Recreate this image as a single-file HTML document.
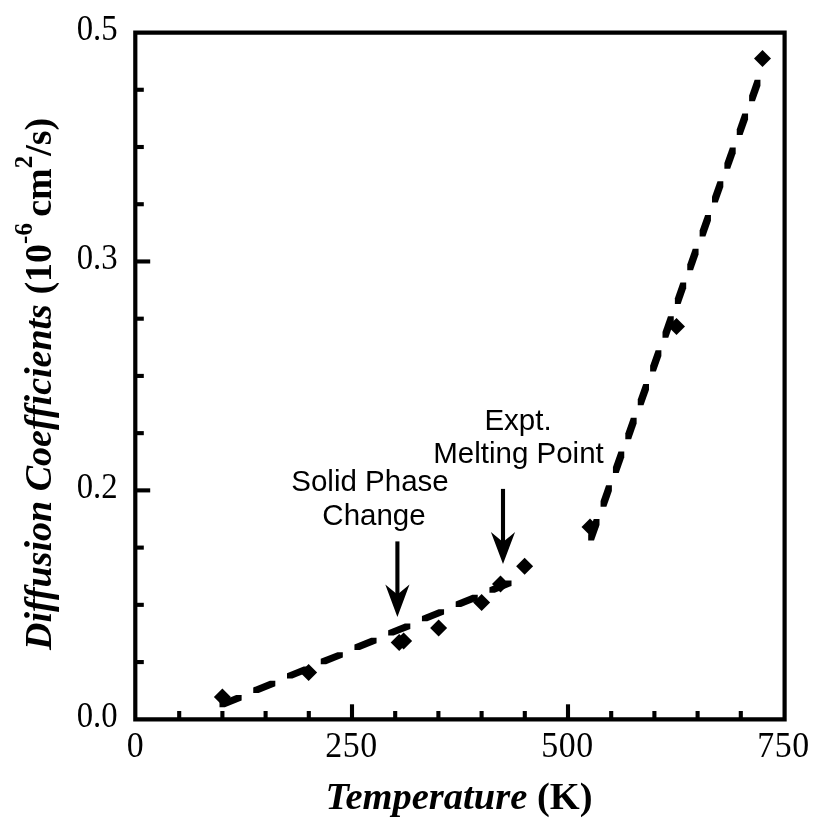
<!DOCTYPE html>
<html><head><meta charset="utf-8"><style>
html,body{margin:0;padding:0;background:#fff;width:819px;height:826px;overflow:hidden}
svg{display:block;will-change:transform}
text{font-variant-ligatures:none;font-feature-settings:'liga' 0,'clig' 0}
</style></head><body>
<svg width="819" height="826" viewBox="0 0 819 826" fill="#000">
<path d="M135.30 32.60 H784.60 V719.40 H135.30 Z" fill="none" stroke="#000" stroke-width="4.20" stroke-linejoin="miter"/>
<rect x="177.15" y="711.00" width="4.1" height="8.40"/>
<rect x="220.35" y="711.00" width="4.1" height="8.40"/>
<rect x="263.55" y="711.00" width="4.1" height="8.40"/>
<rect x="306.75" y="711.00" width="4.1" height="8.40"/>
<rect x="349.95" y="704.30" width="4.1" height="15.10"/>
<rect x="393.15" y="711.00" width="4.1" height="8.40"/>
<rect x="436.35" y="711.00" width="4.1" height="8.40"/>
<rect x="479.55" y="711.00" width="4.1" height="8.40"/>
<rect x="522.75" y="711.00" width="4.1" height="8.40"/>
<rect x="565.95" y="704.30" width="4.1" height="15.10"/>
<rect x="609.15" y="711.00" width="4.1" height="8.40"/>
<rect x="652.35" y="711.00" width="4.1" height="8.40"/>
<rect x="695.55" y="711.00" width="4.1" height="8.40"/>
<rect x="738.75" y="711.00" width="4.1" height="8.40"/>
<rect x="135.30" y="660.02" width="8.50" height="4.1"/>
<rect x="135.30" y="602.79" width="8.50" height="4.1"/>
<rect x="135.30" y="545.56" width="8.50" height="4.1"/>
<rect x="135.30" y="488.33" width="14.90" height="4.1"/>
<rect x="135.30" y="431.10" width="8.50" height="4.1"/>
<rect x="135.30" y="373.87" width="8.50" height="4.1"/>
<rect x="135.30" y="316.64" width="8.50" height="4.1"/>
<rect x="135.30" y="259.41" width="14.90" height="4.1"/>
<rect x="135.30" y="202.18" width="8.50" height="4.1"/>
<rect x="135.30" y="144.95" width="8.50" height="4.1"/>
<rect x="135.30" y="87.72" width="8.50" height="4.1"/>
<g><polygon points="219.50,701.80 236.20,695.10 241.60,695.10 241.60,700.50 224.90,707.20 219.50,707.20"/><polygon points="253.24,687.48 269.94,680.78 275.34,680.78 275.34,686.18 258.64,692.88 253.24,692.88"/><polygon points="286.98,673.16 303.68,666.46 309.08,666.46 309.08,671.86 292.38,678.56 286.98,678.56"/><polygon points="320.72,658.84 337.42,652.14 342.82,652.14 342.82,657.54 326.12,664.24 320.72,664.24"/><polygon points="354.46,644.52 371.16,637.82 376.56,637.82 376.56,643.22 359.86,649.92 354.46,649.92"/><polygon points="388.20,630.20 404.90,623.50 410.30,623.50 410.30,628.90 393.60,635.60 388.20,635.60"/><polygon points="421.94,615.88 438.64,609.18 444.04,609.18 444.04,614.58 427.34,621.28 421.94,621.28"/><polygon points="455.68,601.56 472.38,594.86 477.78,594.86 477.78,600.26 461.08,606.96 455.68,606.96"/><polygon points="489.42,587.24 506.12,580.54 511.52,580.54 511.52,585.94 494.82,592.64 489.42,592.64"/><polygon points="588.20,534.70 593.70,519.10 599.50,519.10 599.50,524.90 594.00,540.50 588.20,540.50"/><polygon points="600.58,500.91 606.08,485.31 611.88,485.31 611.88,491.11 606.38,506.71 600.58,506.71"/><polygon points="612.96,467.12 618.46,451.52 624.26,451.52 624.26,457.32 618.76,472.92 612.96,472.92"/><polygon points="625.34,433.33 630.84,417.73 636.64,417.73 636.64,423.53 631.14,439.13 625.34,439.13"/><polygon points="637.72,399.54 643.22,383.94 649.02,383.94 649.02,389.74 643.52,405.34 637.72,405.34"/><polygon points="650.10,365.75 655.60,350.15 661.40,350.15 661.40,355.95 655.90,371.55 650.10,371.55"/><polygon points="662.48,331.96 667.98,316.36 673.78,316.36 673.78,322.16 668.28,337.76 662.48,337.76"/><polygon points="674.86,298.17 680.36,282.57 686.16,282.57 686.16,288.37 680.66,303.97 674.86,303.97"/><polygon points="687.24,264.38 692.74,248.78 698.54,248.78 698.54,254.58 693.04,270.18 687.24,270.18"/><polygon points="699.62,230.59 705.12,214.99 710.92,214.99 710.92,220.79 705.42,236.39 699.62,236.39"/><polygon points="712.00,196.80 717.50,181.20 723.30,181.20 723.30,187.00 717.80,202.60 712.00,202.60"/><polygon points="724.38,163.01 729.88,147.41 735.68,147.41 735.68,153.21 730.18,168.81 724.38,168.81"/><polygon points="736.76,129.22 742.26,113.62 748.06,113.62 748.06,119.42 742.56,135.02 736.76,135.02"/><polygon points="749.14,95.43 754.64,79.83 760.44,79.83 760.44,85.63 754.94,101.23 749.14,101.23"/></g>
<g><polygon points="222.40,688.50 230.90,697.00 222.40,705.50 213.90,697.00"/><polygon points="308.60,663.90 317.10,672.40 308.60,680.90 300.10,672.40"/><polygon points="399.20,634.00 407.70,642.50 399.20,651.00 390.70,642.50"/><polygon points="403.60,632.50 412.10,641.00 403.60,649.50 395.10,641.00"/><polygon points="438.60,619.60 447.10,628.10 438.60,636.60 430.10,628.10"/><polygon points="481.60,594.00 490.10,602.50 481.60,611.00 473.10,602.50"/><polygon points="500.50,575.50 509.00,584.00 500.50,592.50 492.00,584.00"/><polygon points="524.60,557.70 533.10,566.20 524.60,574.70 516.10,566.20"/><polygon points="590.00,518.50 598.50,527.00 590.00,535.50 581.50,527.00"/><polygon points="676.50,318.00 685.00,326.50 676.50,335.00 668.00,326.50"/><polygon points="762.50,50.00 771.00,58.50 762.50,67.00 754.00,58.50"/></g>
<rect x="395.35" y="541.40" width="4.10" height="54.20"/><polygon points="385.30,584.50 397.40,594.60 409.50,584.50 397.40,617.00"/>
<rect x="500.95" y="488.90" width="4.10" height="54.20"/><polygon points="490.90,531.90 503.00,542.10 515.10,531.90 503.00,563.90"/>
<text transform="translate(117.6,40.00) scale(0.89,1)" text-anchor="end" style="font-family:'Liberation Serif',serif;font-size:36.8px">0.5</text>
<text transform="translate(117.6,268.70) scale(0.89,1)" text-anchor="end" style="font-family:'Liberation Serif',serif;font-size:36.8px">0.3</text>
<text transform="translate(117.6,497.60) scale(0.89,1)" text-anchor="end" style="font-family:'Liberation Serif',serif;font-size:36.8px">0.2</text>
<text transform="translate(117.6,726.80) scale(0.89,1)" text-anchor="end" style="font-family:'Liberation Serif',serif;font-size:36.8px">0.0</text>
<text transform="translate(135.50,756.8) scale(0.92,1)" text-anchor="middle" style="font-family:'Liberation Serif',serif;font-size:36.8px;letter-spacing:0.6px">0</text>
<text transform="translate(351.50,756.8) scale(0.92,1)" text-anchor="middle" style="font-family:'Liberation Serif',serif;font-size:36.8px;letter-spacing:0.6px">250</text>
<text transform="translate(567.50,756.8) scale(0.92,1)" text-anchor="middle" style="font-family:'Liberation Serif',serif;font-size:36.8px;letter-spacing:0.6px">500</text>
<text transform="translate(783.50,756.8) scale(0.92,1)" text-anchor="middle" style="font-family:'Liberation Serif',serif;font-size:36.8px;letter-spacing:0.6px">750</text>
<text x="325.5" y="808.5" style="font-family:'Liberation Serif',serif;font-size:38.5px;font-weight:bold"><tspan font-style="italic">Temperature</tspan> (K)</text>
<text transform="translate(51.2,650) rotate(-90)" style="font-family:'Liberation Serif',serif;font-size:38px;font-weight:bold"><tspan font-style="italic">Diffusion Coefficients</tspan> (10<tspan dy="-19.5" font-size="25px">-6 </tspan><tspan dy="19.5">cm</tspan><tspan dy="-19.5" font-size="25px">2</tspan><tspan dy="19.5">/s)</tspan></text>
<text x="370" y="491.1" text-anchor="middle" style="font-family:'Liberation Sans',sans-serif;font-size:29.5px">Solid Phase</text>
<text x="374" y="525.2" text-anchor="middle" style="font-family:'Liberation Sans',sans-serif;font-size:29.5px">Change</text>
<text x="518" y="429.5" text-anchor="middle" style="font-family:'Liberation Sans',sans-serif;font-size:29.5px">Expt.</text>
<text x="518.5" y="462.8" text-anchor="middle" style="font-family:'Liberation Sans',sans-serif;font-size:29.5px">Melting Point</text>
</svg>
</body></html>
